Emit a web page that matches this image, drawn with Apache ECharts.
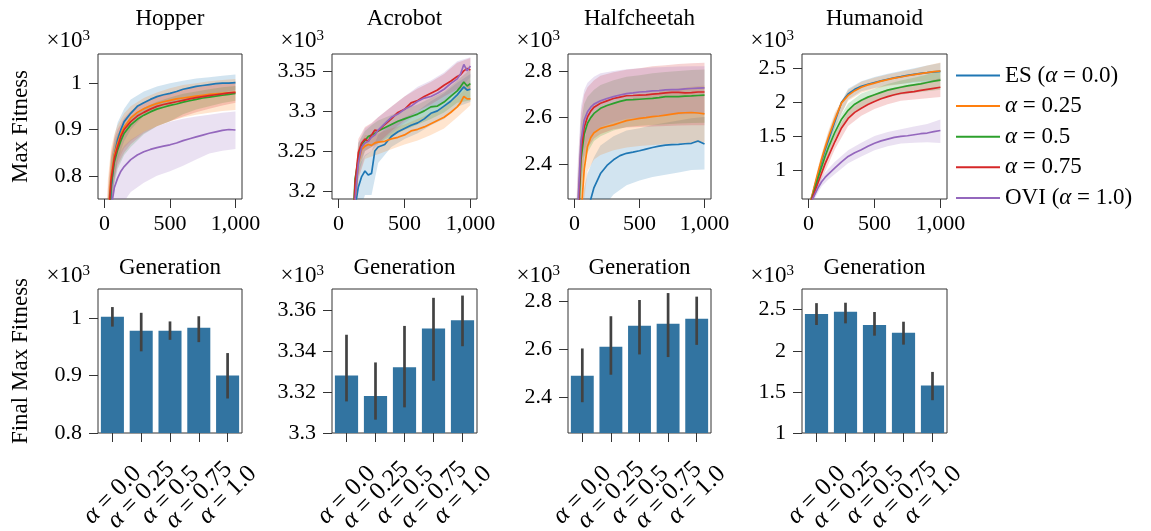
<!DOCTYPE html>
<html><head><meta charset="utf-8">
<script src="https://cdn.jsdelivr.net/npm/echarts@6/dist/echarts.min.js"></script>
<style>html,body{margin:0;padding:0;background:#fff}#c{width:1151px;height:531px}</style>
</head><body><div id="c"></div><script>
// ---------------- DATA ----------------
const PANEL_TITLES = ['Hopper', 'Acrobot', 'Halfcheetah', 'Humanoid'];
const SERIES_NAMES = ['ES (α = 0.0)', 'α = 0.25', 'α = 0.5', 'α = 0.75', 'OVI (α = 1.0)'];
const BAR_CATS = ['α = 0.0', 'α = 0.25', 'α = 0.5', 'α = 0.75', 'α = 1.0'];
const X_TICKS = [0, 500, 1000];

const GEN = [0,25,50,75,100,125,150,200,250,300,350,400,450,500,550,600,650,700,750,800,850,900,950,1000];
const BAND_GEN = [0,25,50,75,100,150,200,300,400,500,600,700,800,900,1000];
const ACRO_GEN = [0,100,125,150,175,200,225,250,275,300,350,400,450,500,550,600,650,700,750,800,850,900,925,950,975,1000];
const ACRO_BAND_GEN = [0,100,150,200,250,300,400,500,600,700,800,900,1000];

// Hopper (x10^3)
const hopperES  = [0.40,0.62,0.77,0.845,0.878,0.9,0.917,0.935,0.95,0.958,0.965,0.971,0.975,0.978,0.982,0.987,0.99,0.993,0.995,0.997,0.999,1.0,1.0,1.001];
const hopperA25 = [0.45,0.70,0.80,0.845,0.87,0.89,0.905,0.925,0.937,0.945,0.951,0.956,0.96,0.963,0.966,0.968,0.97,0.972,0.974,0.976,0.977,0.978,0.979,0.98];
const hopperA50 = [0.44,0.67,0.78,0.83,0.856,0.876,0.892,0.91,0.922,0.931,0.938,0.944,0.948,0.952,0.955,0.959,0.962,0.965,0.968,0.97,0.972,0.974,0.976,0.978];
const hopperA75 = [0.45,0.69,0.79,0.838,0.863,0.885,0.9,0.917,0.929,0.937,0.944,0.95,0.954,0.957,0.96,0.963,0.966,0.969,0.971,0.973,0.975,0.977,0.979,0.98];
const hopperOVI = [0.30,0.55,0.73,0.775,0.795,0.81,0.82,0.835,0.845,0.852,0.857,0.861,0.864,0.867,0.871,0.876,0.88,0.884,0.888,0.892,0.895,0.898,0.9,0.899];
const hopperES_lo  = [0.3,0.52,0.71,0.79,0.835,0.875,0.9,0.93,0.945,0.955,0.963,0.97,0.976,0.98,0.985];
const hopperES_hi  = [0.5,0.72,0.83,0.885,0.915,0.945,0.965,0.982,0.993,1.0,1.005,1.01,1.013,1.016,1.019];
const hopperA25_lo = [0.35,0.61,0.74,0.8,0.83,0.86,0.875,0.895,0.907,0.918,0.926,0.932,0.936,0.94,0.942];
const hopperA25_hi = [0.55,0.79,0.86,0.89,0.91,0.935,0.95,0.968,0.98,0.989,0.996,1.0,1.004,1.007,1.009];
const hopperA50_lo = [0.35,0.59,0.72,0.78,0.815,0.845,0.862,0.89,0.907,0.918,0.933,0.943,0.95,0.957,0.962];
const hopperA50_hi = [0.53,0.75,0.84,0.87,0.89,0.91,0.925,0.947,0.96,0.969,0.977,0.982,0.987,0.991,0.994];
const hopperA75_lo = [0.35,0.61,0.73,0.79,0.822,0.85,0.868,0.892,0.907,0.918,0.928,0.937,0.945,0.952,0.958];
const hopperA75_hi = [0.55,0.77,0.85,0.88,0.9,0.925,0.94,0.958,0.97,0.979,0.987,0.992,0.996,1.0,1.003];
const hopperOVI_lo = [0.2,0.45,0.6,0.68,0.71,0.745,0.765,0.785,0.8,0.81,0.822,0.835,0.848,0.854,0.858];
const hopperOVI_hi = [0.4,0.65,0.78,0.82,0.845,0.865,0.878,0.895,0.907,0.917,0.923,0.928,0.932,0.936,0.939];

// Acrobot (x10^3)
const acroES  = [3.0,3.1,3.18,3.205,3.218,3.225,3.22,3.222,3.25,3.255,3.258,3.268,3.274,3.278,3.282,3.285,3.29,3.297,3.3,3.306,3.312,3.32,3.325,3.33,3.326,3.327];
const acroA25 = [3.0,3.1,3.19,3.235,3.252,3.256,3.258,3.257,3.26,3.261,3.262,3.265,3.267,3.27,3.275,3.277,3.28,3.284,3.288,3.292,3.298,3.305,3.31,3.318,3.315,3.315];
const acroA50 = [3.0,3.13,3.215,3.24,3.258,3.263,3.268,3.27,3.272,3.275,3.279,3.283,3.287,3.29,3.293,3.296,3.3,3.305,3.306,3.311,3.318,3.325,3.33,3.336,3.331,3.334];
const acroA75 = [3.0,3.12,3.21,3.248,3.26,3.265,3.262,3.27,3.276,3.275,3.283,3.29,3.298,3.302,3.31,3.313,3.318,3.322,3.326,3.332,3.337,3.343,3.345,3.35,3.353,3.351];
const acroOVI = [3.0,3.1,3.19,3.235,3.255,3.26,3.262,3.267,3.27,3.276,3.284,3.292,3.296,3.302,3.306,3.312,3.316,3.318,3.322,3.327,3.334,3.34,3.346,3.358,3.35,3.356];
const acroES_lo  = [2.95,3.05,3.17,3.195,3.195,3.235,3.255,3.265,3.272,3.282,3.29,3.305,3.311];
const acroES_hi  = [3.05,3.15,3.23,3.245,3.25,3.27,3.284,3.292,3.3,3.312,3.322,3.335,3.346];
const acroA25_lo = [2.95,3.05,3.215,3.24,3.243,3.246,3.252,3.258,3.263,3.27,3.278,3.292,3.307];
const acroA25_hi = [3.05,3.15,3.255,3.27,3.27,3.272,3.278,3.283,3.29,3.297,3.305,3.318,3.333];
const acroA50_lo = [2.95,3.09,3.22,3.25,3.255,3.26,3.268,3.276,3.283,3.29,3.298,3.31,3.313];
const acroA50_hi = [3.05,3.17,3.26,3.275,3.282,3.288,3.295,3.302,3.308,3.316,3.324,3.338,3.352];
const acroA75_lo = [2.95,3.08,3.23,3.25,3.255,3.26,3.275,3.288,3.3,3.308,3.318,3.327,3.326];
const acroA75_hi = [3.05,3.16,3.265,3.28,3.285,3.292,3.305,3.318,3.328,3.336,3.346,3.36,3.366];
const acroOVI_lo = [2.95,3.05,3.215,3.243,3.25,3.258,3.272,3.285,3.296,3.303,3.31,3.325,3.342];
const acroOVI_hi = [3.05,3.15,3.26,3.278,3.284,3.292,3.305,3.318,3.33,3.338,3.348,3.362,3.367];

// Halfcheetah (x10^3)
const hcES  = [1.6,1.8,2.0,2.12,2.2,2.25,2.3,2.36,2.395,2.419,2.437,2.447,2.452,2.458,2.465,2.472,2.478,2.482,2.484,2.485,2.488,2.49,2.5,2.487];
const hcA25 = [1.6,1.9,2.18,2.38,2.476,2.515,2.535,2.554,2.562,2.569,2.578,2.587,2.592,2.597,2.6,2.604,2.607,2.611,2.615,2.619,2.621,2.622,2.62,2.616];
const hcA50 = [1.8,2.1,2.42,2.53,2.576,2.6,2.618,2.64,2.652,2.661,2.67,2.676,2.677,2.679,2.681,2.683,2.686,2.69,2.69,2.69,2.692,2.693,2.695,2.697];
const hcA75 = [1.8,2.15,2.46,2.56,2.603,2.628,2.645,2.662,2.672,2.682,2.688,2.694,2.695,2.697,2.698,2.701,2.703,2.706,2.708,2.708,2.706,2.707,2.71,2.71];
const hcOVI = [1.8,2.2,2.5,2.59,2.625,2.645,2.658,2.672,2.682,2.69,2.697,2.703,2.706,2.71,2.712,2.715,2.716,2.719,2.72,2.72,2.723,2.725,2.727,2.728];
const hcES_lo  = [1.4,1.6,1.8,1.9,2.0,2.1,2.2,2.27,2.31,2.33,2.345,2.355,2.365,2.375,2.378];
const hcES_hi  = [1.8,2.0,2.2,2.3,2.36,2.43,2.48,2.52,2.545,2.555,2.568,2.578,2.588,2.597,2.603];
const hcA25_lo = [1.4,1.7,2.0,2.25,2.37,2.42,2.44,2.46,2.472,2.478,2.483,2.486,2.49,2.492,2.493];
const hcA25_hi = [1.8,2.1,2.35,2.5,2.57,2.62,2.645,2.665,2.682,2.693,2.705,2.715,2.725,2.733,2.738];
const hcA50_lo = [1.6,1.9,2.25,2.4,2.45,2.5,2.52,2.545,2.56,2.565,2.568,2.572,2.575,2.577,2.578];
const hcA50_hi = [2.0,2.3,2.58,2.66,2.69,2.72,2.74,2.76,2.775,2.782,2.79,2.796,2.8,2.804,2.806];
const hcA75_lo = [1.6,1.95,2.3,2.43,2.47,2.51,2.53,2.55,2.558,2.56,2.562,2.564,2.566,2.567,2.567];
const hcA75_hi = [2.0,2.35,2.62,2.7,2.73,2.76,2.78,2.795,2.805,2.812,2.82,2.825,2.83,2.833,2.835];
const hcOVI_lo = [1.6,2.0,2.35,2.46,2.5,2.54,2.56,2.58,2.595,2.6,2.605,2.61,2.614,2.617,2.618];
const hcOVI_hi = [2.0,2.4,2.65,2.72,2.75,2.775,2.79,2.8,2.808,2.812,2.815,2.817,2.819,2.82,2.82];

// Humanoid (x10^3)
const humES  = [0.45,0.6,0.78,0.96,1.14,1.3,1.44,1.72,2.0,2.12,2.19,2.235,2.265,2.29,2.315,2.338,2.36,2.377,2.395,2.41,2.425,2.436,2.448,2.455];
const humA25 = [0.45,0.61,0.8,0.99,1.17,1.33,1.48,1.75,1.99,2.1,2.17,2.22,2.255,2.282,2.31,2.332,2.355,2.372,2.39,2.407,2.422,2.435,2.45,2.46];
const humA50 = [0.45,0.58,0.74,0.9,1.05,1.2,1.33,1.56,1.75,1.88,1.97,2.03,2.075,2.11,2.145,2.178,2.2,2.22,2.24,2.256,2.27,2.29,2.31,2.325];
const humA75 = [0.45,0.57,0.7,0.83,0.96,1.09,1.2,1.42,1.62,1.76,1.85,1.91,1.965,2.01,2.05,2.083,2.11,2.132,2.145,2.157,2.175,2.19,2.205,2.22];
const humOVI = [0.45,0.55,0.65,0.75,0.83,0.89,0.94,1.03,1.12,1.2,1.255,1.3,1.35,1.395,1.43,1.455,1.48,1.495,1.505,1.52,1.535,1.545,1.565,1.583];
const humES_lo  = [0.4,0.55,0.72,0.9,1.06,1.35,1.62,2.04,2.16,2.21,2.25,2.27,2.29,2.3,2.314];
const humES_hi  = [0.5,0.66,0.85,1.04,1.22,1.55,1.82,2.2,2.31,2.37,2.42,2.46,2.5,2.54,2.58];
const humA25_lo = [0.4,0.56,0.74,0.92,1.09,1.38,1.65,2.02,2.14,2.2,2.24,2.27,2.3,2.32,2.334];
const humA25_hi = [0.5,0.67,0.87,1.07,1.25,1.58,1.85,2.18,2.3,2.36,2.41,2.45,2.49,2.54,2.585];
const humA50_lo = [0.4,0.52,0.67,0.82,0.96,1.22,1.46,1.78,1.93,2.02,2.08,2.11,2.14,2.16,2.184];
const humA50_hi = [0.5,0.64,0.81,0.98,1.14,1.44,1.66,1.98,2.13,2.2,2.27,2.32,2.36,2.41,2.472];
const humA75_lo = [0.4,0.51,0.63,0.75,0.87,1.09,1.31,1.65,1.8,1.9,1.97,2.02,2.04,2.06,2.075];
const humA75_hi = [0.5,0.63,0.77,0.91,1.05,1.31,1.53,1.87,2.02,2.12,2.19,2.24,2.27,2.31,2.354];
const humOVI_lo = [0.4,0.5,0.59,0.68,0.76,0.86,0.94,1.1,1.2,1.29,1.35,1.39,1.4,1.41,1.399];
const humOVI_hi = [0.5,0.6,0.71,0.82,0.9,1.02,1.12,1.29,1.4,1.5,1.56,1.6,1.64,1.68,1.743];

// Final max fitness bars (x10^3) with error bar ends
const hopperBar = [1.002,0.978,0.978,0.983,0.900];
const hopperBarLo = [0.985,0.942,0.962,0.958,0.860];
const hopperBarHi = [1.019,1.009,0.994,1.003,0.939];
const acroBar = [3.328,3.318,3.332,3.351,3.355];
const acroBarLo = [3.3154,3.3065,3.3125,3.3255,3.3423];
const acroBarHi = [3.3479,3.3344,3.3522,3.3659,3.367];
const hcBar = [2.489,2.61,2.698,2.706,2.727];
const hcBarLo = [2.378,2.493,2.578,2.567,2.618];
const hcBarHi = [2.603,2.738,2.806,2.835,2.82];
const humBar = [2.447,2.476,2.314,2.22,1.577];
const humBarLo = [2.314,2.334,2.184,2.075,1.399];
const humBarHi = [2.58,2.585,2.472,2.354,1.743];

// tick values
const hopperTicks = [0.8, 0.9, 1];
const acroTicks = [3.2, 3.25, 3.3, 3.35];
const hcTicks = [2.4, 2.6, 2.8];
const humTicks = [1, 1.5, 2, 2.5];
const hopperBarTicks = [0.8, 0.9, 1];
const acroBarTicks = [3.3, 3.32, 3.34, 3.36];
const hcBarTicks = [2.4, 2.6, 2.8];
const humBarTicks = [1, 1.5, 2, 2.5];

// ---------------- STYLE / LAYOUT ----------------
const FONT = 'Liberation Serif';
const AX = '#333333';
const COLORS = ['#1f77b4', '#ff7f0e', '#2ca02c', '#d62728', '#9467bd'];
const BAND_FILL = ['rgba(31,119,180,0.2)', 'rgba(255,127,14,0.2)', 'rgba(44,160,44,0.2)', 'rgba(214,39,40,0.2)', 'rgba(148,103,189,0.2)'];
const BAR_COLOR = '#3274a1';
const ERR_COLOR = '#424242';
const GRID_LEFT = [98, 332, 568, 802];
const GRID_W = [144, 145, 143, 145];

const panels = [
  { gen: GEN, bandGen: BAND_GEN, means: [hopperES, hopperA25, hopperA50, hopperA75, hopperOVI],
    lo: [hopperES_lo, hopperA25_lo, hopperA50_lo, hopperA75_lo, hopperOVI_lo],
    hi: [hopperES_hi, hopperA25_hi, hopperA50_hi, hopperA75_hi, hopperOVI_hi],
    range: [0.75, 1.063], ticks: hopperTicks,
    bar: hopperBar, barLo: hopperBarLo, barHi: hopperBarHi, barRange: [0.8, 1.0504], barTicks: hopperBarTicks },
  { gen: ACRO_GEN, bandGen: ACRO_BAND_GEN, means: [acroES, acroA25, acroA50, acroA75, acroOVI],
    lo: [acroES_lo, acroA25_lo, acroA50_lo, acroA75_lo, acroOVI_lo],
    hi: [acroES_hi, acroA25_hi, acroA50_hi, acroA75_hi, acroOVI_hi],
    range: [3.19, 3.371], ticks: acroTicks,
    bar: acroBar, barLo: acroBarLo, barHi: acroBarHi, barRange: [3.3, 3.3702], barTicks: acroBarTicks },
  { gen: GEN, bandGen: BAND_GEN, means: [hcES, hcA25, hcA50, hcA75, hcOVI],
    lo: [hcES_lo, hcA25_lo, hcA50_lo, hcA75_lo, hcOVI_lo],
    hi: [hcES_hi, hcA25_hi, hcA50_hi, hcA75_hi, hcOVI_hi],
    range: [2.251, 2.873], ticks: hcTicks,
    bar: hcBar, barLo: hcBarLo, barHi: hcBarHi, barRange: [2.249, 2.852], barTicks: hcBarTicks },
  { gen: GEN, bandGen: BAND_GEN, means: [humES, humA25, humA50, humA75, humOVI],
    lo: [humES_lo, humA25_lo, humA50_lo, humA75_lo, humOVI_lo],
    hi: [humES_hi, humA25_hi, humA50_hi, humA75_hi, humOVI_hi],
    range: [0.572, 2.711], ticks: humTicks,
    bar: humBar, barLo: humBarLo, barHi: humBarHi, barRange: [1.0, 2.752], barTicks: humBarTicks }
];

function fmtX(v) { return String(v).replace(/\B(?=(\d{3})+(?!\d))/g, ','); }
function alphaRich(s) { return s.replace(/α/g, '{i|α}'); }
const TXT = { fontFamily: FONT, fontSize: 22, color: '#000' };
const RICH_I = { i: { fontFamily: FONT, fontSize: 22, fontStyle: 'italic', color: '#000' } };
const RICH_I25 = { i: { fontFamily: FONT, fontSize: 25, fontStyle: 'italic', color: '#000' } };

function yAxisDef(gridIndex, range, ticks) {
  return {
    gridIndex, type: 'value', min: range[0], max: range[1],
    axisLine: { show: false, onZero: false },
    axisTick: { show: true, length: 9, lineStyle: { color: AX, width: 1 }, customValues: ticks },
    axisLabel: { show: true, customValues: ticks, formatter: v => String(v), margin: 16, ...TXT },
    splitLine: { show: false },
    name: '{a|×10}{b|3}', nameLocation: 'end', nameGap: 2,
    nameTextStyle: { align: 'right', verticalAlign: 'bottom', padding: [0, 8, 0, 0],
      rich: { a: { fontFamily: FONT, fontSize: 23, color: '#000' }, b: { fontFamily: FONT, fontSize: 15, color: '#000', verticalAlign: 'top' } } }
  };
}
function nameAxis(gridIndex, range, name) {
  return {
    gridIndex, type: 'value', position: 'left', offset: 0, min: range[0], max: range[1],
    axisLine: { show: false }, axisTick: { show: false }, axisLabel: { show: false }, splitLine: { show: false },
    name, nameLocation: 'middle', nameGap: 77, nameRotate: 90,
    nameTextStyle: { fontFamily: FONT, fontSize: 23, color: '#000', verticalAlign: 'middle', align: 'center' }
  };
}
function makeBand(xs, lo, hi, fill) {
  return function (params, api) {
    if (params.dataIndex !== 0) return;
    const pts = [];
    for (let j = 0; j < xs.length; j++) pts.push(api.coord([xs[j], hi[j]]));
    for (let j = xs.length - 1; j >= 0; j--) pts.push(api.coord([xs[j], lo[j]]));
    const cs = params.coordSys;
    return { type: 'polygon', shape: { points: pts }, style: { fill },
      clipPath: { type: 'rect', shape: { x: cs.x, y: cs.y, width: cs.width, height: cs.height } } };
  };
}
function errRender(params, api) {
  const p1 = api.coord([api.value(0), api.value(1)]);
  const p2 = api.coord([api.value(0), api.value(2)]);
  return { type: 'line', shape: { x1: p1[0], y1: p1[1], x2: p2[0], y2: p2[1] },
    style: { stroke: ERR_COLOR, lineWidth: 2.7 } };
}

const grids = [], xAxes = [], yAxes = [], series = [];
panels.forEach((p, i) => {
  const left = GRID_LEFT[i], width = GRID_W[i];
  // ---- top: learning curves ----
  const gT = grids.length;
  grids.push({ left, top: 54, width, height: 145, show: true, borderColor: AX, borderWidth: 1,
    backgroundColor: 'transparent', containLabel: false, outerBoundsMode: 'none' });
  const xT = xAxes.length;
  xAxes.push({ gridIndex: gT, type: 'value', min: -50, max: 1050, position: 'bottom',
    axisLine: { show: false, onZero: false },
    axisTick: { show: true, length: 9, lineStyle: { color: AX }, customValues: X_TICKS },
    axisLabel: { show: true, customValues: X_TICKS, formatter: fmtX, margin: 14, ...TXT },
    splitLine: { show: false },
    name: 'Generation', nameLocation: 'middle', nameGap: 69,
    nameTextStyle: { fontFamily: FONT, fontSize: 23, color: '#000', verticalAlign: 'middle' } });
  xAxes.push({ gridIndex: gT, type: 'value', min: -50, max: 1050, position: 'top',
    axisLine: { show: false }, axisTick: { show: false }, axisLabel: { show: false }, splitLine: { show: false },
    name: PANEL_TITLES[i], nameLocation: 'middle', nameGap: 35,
    nameTextStyle: { fontFamily: FONT, fontSize: 23, color: '#000', verticalAlign: 'middle' } });
  const yT = yAxes.length;
  yAxes.push(yAxisDef(gT, p.range, p.ticks));
  if (i === 0) yAxes.push(nameAxis(gT, p.range, 'Max Fitness'));
  for (let k = 0; k < 5; k++) {
    series.push({ type: 'custom', xAxisIndex: xT, yAxisIndex: yT, silent: true, clip: true, z: 1,
      data: p.bandGen.map((g, j) => [g, p.lo[k][j], p.hi[k][j]]), encode: { x: 0, y: [1, 2] },
      renderItem: makeBand(p.bandGen, p.lo[k], p.hi[k], BAND_FILL[k]) });
  }
  for (let k = 0; k < 5; k++) {
    series.push({ type: 'line', name: SERIES_NAMES[k], xAxisIndex: xT, yAxisIndex: yT, z: 3,
      data: p.gen.map((g, j) => [g, p.means[k][j]]), symbol: 'none', showSymbol: false, clip: true,
      lineStyle: { color: COLORS[k], width: 1.7 }, itemStyle: { color: COLORS[k] } });
  }
  // ---- bottom: final bars ----
  const gB = grids.length;
  grids.push({ left, top: 289, width, height: 144, show: true, borderColor: AX, borderWidth: 1,
    backgroundColor: 'transparent', containLabel: false, outerBoundsMode: 'none' });
  const xB = xAxes.length;
  xAxes.push({ gridIndex: gB, type: 'category', data: BAR_CATS, position: 'bottom',
    axisLine: { show: false, onZero: false },
    axisTick: { show: true, alignWithLabel: true, length: 9, lineStyle: { color: AX } },
    axisLabel: { show: true, interval: 0, rotate: 45, align: 'center', verticalAlign: 'middle', margin: 62,
      formatter: alphaRich, rich: RICH_I25, fontFamily: FONT, fontSize: 25, color: '#000' },
    splitLine: { show: false } });
  const yB = yAxes.length;
  yAxes.push(yAxisDef(gB, p.barRange, p.barTicks));
  if (i === 0) yAxes.push(nameAxis(gB, p.barRange, 'Final Max Fitness'));
  series.push({ type: 'bar', xAxisIndex: xB, yAxisIndex: yB, data: p.bar, barWidth: '80%',
    itemStyle: { color: BAR_COLOR }, silent: true, z: 2 });
  series.push({ type: 'custom', xAxisIndex: xB, yAxisIndex: yB, silent: true, z: 4,
    data: p.bar.map((v, j) => [j, p.barLo[j], p.barHi[j]]), encode: { x: 0, y: [1, 2] },
    renderItem: errRender });
});

const chart = echarts.init(document.getElementById('c'), null, { renderer: 'canvas' });
chart.setOption({
  animation: false,
  backgroundColor: '#ffffff',
  grid: grids, xAxis: xAxes, yAxis: yAxes, series,
  legend: {
    data: SERIES_NAMES, orient: 'vertical', left: 956, top: 64, padding: 0,
    icon: 'rect', itemWidth: 44, itemHeight: 2, itemGap: 7.6, selectedMode: false,
    textStyle: { ...TXT, fontSize: 23, lineHeight: 22, rich: { i: { ...RICH_I.i, fontSize: 23 } } },
    formatter: alphaRich
  }
});
</script></body></html>
